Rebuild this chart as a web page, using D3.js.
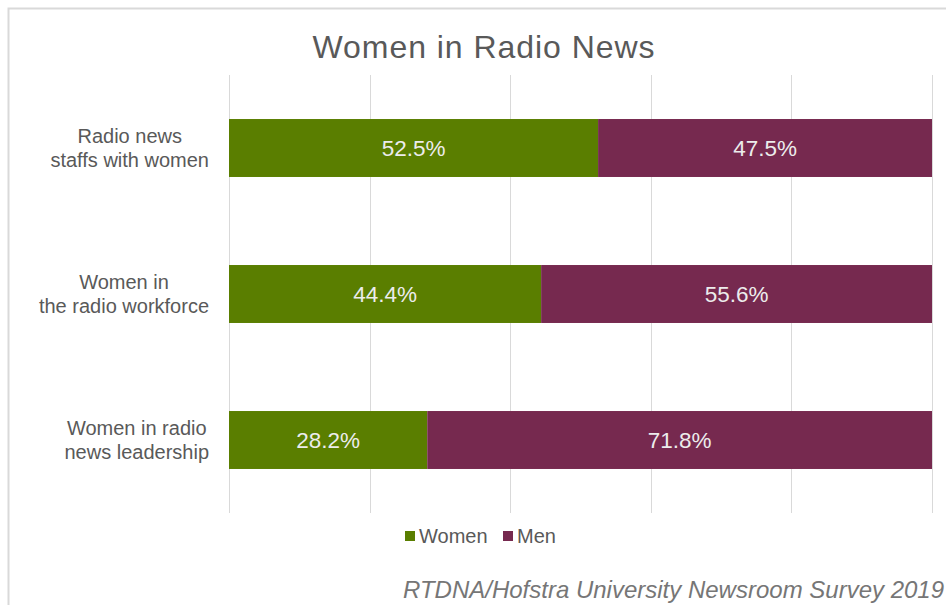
<!DOCTYPE html>
<html>
<head>
<meta charset="utf-8">
<script src="https://cdn.jsdelivr.net/npm/d3@7"></script>
<style>
  html, body { margin: 0; padding: 0; background: #fff; }
  svg { display: block; font-family: "Liberation Sans", Arial, sans-serif; }
</style>
</head>
<body>
<svg id="chart" width="946" height="605"></svg>
<script>
// Survey shares by role, in percent
const categories = [
  ["Radio news", "staffs with women"],
  ["Women in", "the radio workforce"],
  ["Women in radio", "news leadership"]
];
const womenValues = [52.5, 44.4, 28.2];
const menValues = [47.5, 55.6, 71.8];
const seriesNames = ["Women", "Men"];
const xTicks = [0, 20, 40, 60, 80, 100];

const colors = { Women: "#5A7E00", Men: "#76294F" };

const svg = d3.select("#chart");

// chart frame
svg.append("rect")
  .attr("x", 8.5).attr("y", 8.5)
  .attr("width", 960).attr("height", 620)
  .attr("fill", "#fff")
  .attr("stroke", "#d9d9d9").attr("stroke-width", 2);

const plot = { left: 229, right: 932, top: 75, bottom: 513 };

const x = d3.scaleLinear().domain([0, 100]).range([plot.left, plot.right]);
const y = d3.scaleBand()
  .domain(d3.range(categories.length))
  .range([plot.top, plot.bottom])
  .paddingInner(0.603).paddingOuter(0.3015);

// gridlines
svg.append("g")
  .selectAll("line")
  .data(xTicks)
  .join("line")
  .attr("x1", d => Math.round(x(d)) + 0.5)
  .attr("x2", d => Math.round(x(d)) + 0.5)
  .attr("y1", plot.top).attr("y2", plot.bottom)
  .attr("stroke", "#d9d9d9").attr("stroke-width", 1);

// stacked rows
const rows = categories.map((c, i) => ({
  i,
  segs: [
    { name: "Women", x0: 0, x1: womenValues[i], v: womenValues[i] },
    { name: "Men", x0: womenValues[i], x1: womenValues[i] + menValues[i], v: menValues[i] }
  ]
}));

const rowG = svg.append("g").selectAll("g")
  .data(rows)
  .join("g")
  .attr("transform", d => `translate(0,${y(d.i)})`);

rowG.selectAll("rect")
  .data(d => d.segs)
  .join("rect")
  .attr("x", d => x(d.x0))
  .attr("width", d => x(d.x1) - x(d.x0))
  .attr("y", 0)
  .attr("height", y.bandwidth())
  .attr("fill", d => colors[d.name]);

rowG.selectAll("text")
  .data(d => d.segs)
  .join("text")
  .attr("x", d => (x(d.x0) + x(d.x1)) / 2)
  .attr("y", y.bandwidth() / 2 + 8)
  .attr("text-anchor", "middle")
  .attr("font-size", 22.5)
  .attr("fill", "#ececec")
  .text(d => d.v.toFixed(1) + "%");

// category labels: each block centred on its own widest line, right edge at 209
const catG = svg.append("g").selectAll("text")
  .data(categories)
  .join("text")
  .attr("text-anchor", "middle")
  .attr("font-size", 20)
  .attr("fill", "#595959");
catG.selectAll("tspan")
  .data(d => d)
  .join("tspan")
  .attr("x", 0)
  .attr("y", (d, j) => j === 0 ? -5 : 19)
  .text(d => d);
catG.attr("transform", function(d, i) {
  const w = d3.max(Array.from(this.querySelectorAll("tspan")), t => t.getComputedTextLength());
  return `translate(${209 - w / 2},${y(i) + y.bandwidth() / 2})`;
});

// title
svg.append("text")
  .attr("x", 484).attr("y", 58)
  .attr("text-anchor", "middle")
  .attr("font-size", 32)
  .attr("letter-spacing", 0.95)
  .attr("fill", "#595959")
  .text("Women in Radio News");

// legend
const legendItems = [
  { name: seriesNames[0], x: 405 },
  { name: seriesNames[1], x: 503 }
];
const lg = svg.append("g").selectAll("g")
  .data(legendItems)
  .join("g")
  .attr("transform", d => `translate(${d.x},0)`);
lg.append("rect")
  .attr("x", 0).attr("y", 531)
  .attr("width", 10).attr("height", 10)
  .attr("fill", d => colors[d.name]);
lg.append("text")
  .attr("x", 14).attr("y", 543)
  .attr("font-size", 20)
  .attr("fill", "#595959")
  .text(d => d.name);

// source note
svg.append("text")
  .attr("x", 403).attr("y", 598)
  .attr("font-size", 24)
  .attr("font-style", "italic")
  .attr("fill", "#767676")
  .text("RTDNA/Hofstra University Newsroom Survey 2019");
</script>
</body>
</html>
